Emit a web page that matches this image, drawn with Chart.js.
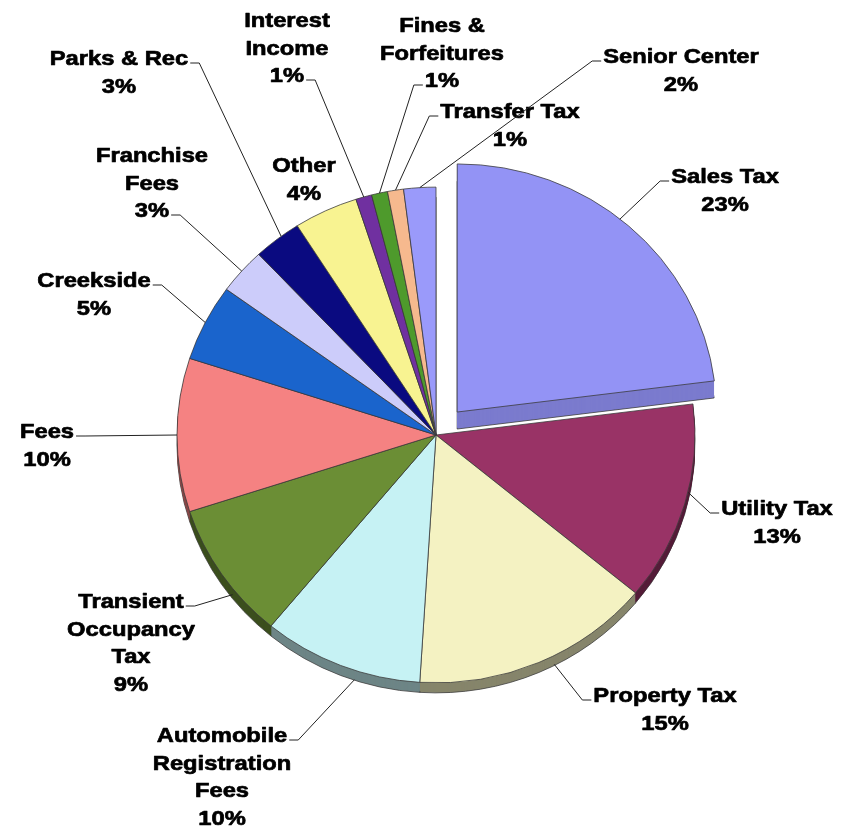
<!DOCTYPE html>
<html>
<head>
<meta charset="utf-8">
<title>General Fund Revenue</title>
<script src="https://cdn.jsdelivr.net/npm/chart.js@4.4.1/dist/chart.umd.min.js"></script>
<style>
  html, body { margin: 0; padding: 0; background: #fff; }
  canvas { display: block; }
</style>
</head>
<body>
<canvas id="revenuePie" width="851" height="827"></canvas>
<script>
// Revenue sources, clockwise from 12 o'clock
const categories = [
    ['Sales Tax'], ['Utility Tax'], ['Property Tax'],
    ['Automobile', 'Registration', 'Fees'], ['Transient', 'Occupancy', 'Tax'],
    ['Fees'], ['Creekside'], ['Franchise', 'Fees'], ['Parks & Rec'], ['Other'],
    ['Interest', 'Income'], ['Fines &', 'Forfeitures'], ['Transfer Tax'], ['Senior Center']
];
const shares = [23, 13, 15, 10, 9, 10, 5, 3, 3, 4, 1, 1, 1, 2];

const sliceColors = [
    '#9393F5', '#993366', '#F4F2C2', '#C6F2F4', '#6B8E35', '#F58282', '#1A64CC',
    '#CCCCFA', '#0A0A80', '#F8F391', '#7030A0', '#4E9A2C', '#F6B98E', '#9A9AFA'
];

// where each label sits: text centre x, first baseline y, line the leader ties to,
// side of the text the leader leaves from, and how far along the slice it touches
const labelSpots = [
    { x: 725, y: 183, tie: 0, side: 'left',  at: 0.47 },
    { x: 777, y: 515, tie: 0, side: 'left',  at: 0.43 },
    { x: 665, y: 702, tie: 0, side: 'left',  at: 0.43 },
    { x: 222, y: 742, tie: 0, side: 'right', at: 0.41 },
    { x: 131, y: 608, tie: 0, side: 'right', at: 0.375 },
    { x: 47,  y: 438, tie: 0, side: 'right', at: 0.5 },
    { x: 94,  y: 287, tie: 0, side: 'right', at: 0.5 },
    { x: 152, y: 162, tie: 2, side: 'right', at: 0.5 },
    { x: 119, y: 65,  tie: 0, side: 'right', at: 0.6 },
    { x: 304, y: 172, tie: null },
    { x: 287, y: 27,  tie: 2, side: 'right', at: 0.5 },
    { x: 442, y: 32,  tie: 2, side: 'left',  at: 0.5 },
    { x: 510, y: 118, tie: 0, side: 'left',  at: 0.5 },
    { x: 681, y: 63,  tie: 0, side: 'left',  at: 0.5 }
];

const TILT = 0.957;        // vertical squash of the pie
const DEPTH = 10;          // thickness of the pie edge
const CUT_DEPTH = 17;      // the pulled-out slice shows a deeper side
const STRETCH = 1.13;      // wide bold lettering
const LINE_H = 27.5;

function darken(hex, f) {
    const n = parseInt(hex.slice(1), 16);
    const r = Math.round(((n >> 16) & 255) * f);
    const g = Math.round(((n >> 8) & 255) * f);
    const b = Math.round((n & 255) * f);
    return `rgb(${r},${g},${b})`;
}
// the cut face of the pulled-out slice catches more light than the rim
const sideColors = sliceColors.map((c, i) => darken(c, i === 0 ? 0.84 : 0.55));

// same shift the arc element applies for an exploded slice
function arcShift(arc) {
    const off = (arc.options.offset || 0) / 4;
    const mid = (arc.startAngle + arc.endAngle) / 2;
    return { x: Math.cos(mid) * off, y: Math.sin(mid) * off };
}

const pie3d = {
    id: 'pie3d',
    beforeDatasetsDraw(chart) {
        const ctx = chart.ctx;
        const arcs = chart.getDatasetMeta(0).data;
        const cx = arcs[0].x, cy = arcs[0].y;
        ctx.save();
        ctx.translate(cx, cy);
        ctx.scale(1, TILT);
        ctx.translate(-cx, -cy);
        // stack of darker copies under the top face
        for (let d = CUT_DEPTH; d >= 1; d--) {
            arcs.forEach((arc, i) => {
                const depth = arc.options.offset ? CUT_DEPTH : DEPTH;
                if (d > depth) return;
                const o = arcShift(arc);
                const x = arc.x + o.x, y = arc.y + o.y + d / TILT;
                ctx.beginPath();
                ctx.moveTo(x, y);
                ctx.arc(x, y, arc.outerRadius, arc.startAngle, arc.endAngle);
                ctx.closePath();
                ctx.fillStyle = sideColors[i];
                ctx.fill();
                if (d === depth) {
                    ctx.strokeStyle = '#3a3a3a';
                    ctx.lineWidth = 0.8;
                    ctx.stroke();
                }
            });
        }
    },
    afterDatasetsDraw(chart) {
        chart.ctx.restore();
    }
};

const pieLabels = {
    id: 'pieLabels',
    afterDraw(chart) {
        const ctx = chart.ctx;
        const arcs = chart.getDatasetMeta(0).data;
        const cy = arcs[0].y;
        ctx.save();
        ctx.font = 'bold 21px "Liberation Sans", Arial, sans-serif';
        ctx.textAlign = 'center';
        ctx.textBaseline = 'alphabetic';
        ctx.lineJoin = 'round';

        categories.forEach((name, i) => {
            const spot = labelSpots[i];
            const lines = name.concat([shares[i] + '%']);
            ctx.fillStyle = '#000';
            ctx.strokeStyle = '#000';
            lines.forEach((t, j) => {
                ctx.save();
                ctx.translate(spot.x, spot.y + j * LINE_H);
                ctx.scale(STRETCH, 1);
                ctx.lineWidth = 0.7;
                ctx.fillText(t, 0, 0);
                ctx.strokeText(t, 0, 0);
                ctx.restore();
            });
            if (spot.tie === null) return;

            // leader: short tick off the text, then over to the slice rim
            const arc = arcs[i];
            const o = arcShift(arc);
            const a = arc.startAngle + spot.at * (arc.endAngle - arc.startAngle);
            const rx = arc.x + o.x + arc.outerRadius * Math.cos(a);
            const ryRaw = arc.y + o.y + arc.outerRadius * Math.sin(a);
            const ry = cy + TILT * (ryRaw - cy) + DEPTH * Math.max(0, Math.sin(a));

            const w = ctx.measureText(lines[spot.tie]).width * STRETCH;
            const ty = spot.y + spot.tie * LINE_H - 2;
            const dir = spot.side === 'left' ? -1 : 1;
            const tx = spot.x + dir * (w / 2 + 2);
            const ex = tx + dir * 9;

            ctx.strokeStyle = '#222';
            ctx.lineWidth = 1;
            ctx.beginPath();
            ctx.moveTo(tx, ty);
            ctx.lineTo(ex, ty);
            ctx.lineTo(rx, ry);
            ctx.stroke();
        });
        ctx.restore();
    }
};

new Chart(document.getElementById('revenuePie'), {
    type: 'pie',
    data: {
        labels: categories,
        datasets: [{
            data: shares,
            backgroundColor: sliceColors,
            borderColor: '#3a3a3a',
            borderWidth: 0.8,
            offset: ctx => ctx.dataIndex === 0 ? 128 : 0
        }]
    },
    options: {
        responsive: false,
        animation: false,
        events: [],
        radius: 259,
        layout: { padding: { left: 21, top: 43, right: 0, bottom: 0 } },
        plugins: {
            legend: { display: false },
            tooltip: { enabled: false }
        }
    },
    plugins: [pie3d, pieLabels]
});
</script>
</body>
</html>
